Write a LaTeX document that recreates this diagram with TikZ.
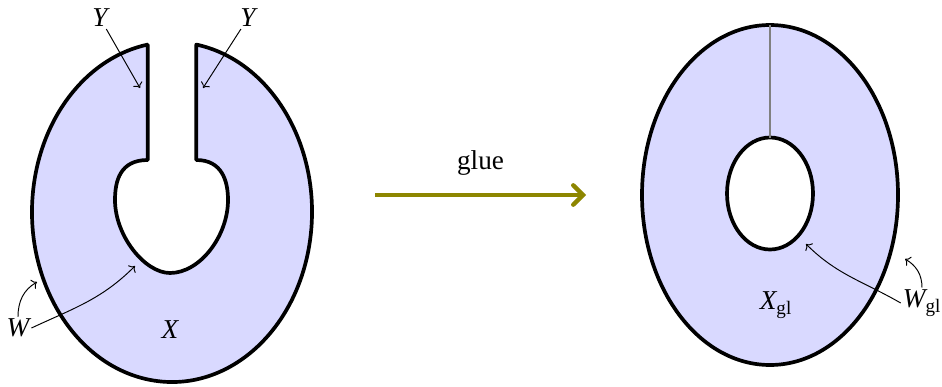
\documentclass[tikz,border=0pt]{standalone}
\usepackage{fontspec}
\setmainfont{Liberation Serif}
\usetikzlibrary{arrows.meta}
\begin{document}
\begin{tikzpicture}[x=0.02cm,y=0.02cm,
  region/.style={fill=blue!15,draw=black,line width=2.1pt,line join=round},
  lbl/.style={font=\fontsize{15.5}{17}\selectfont,inner sep=1pt},
  pointer/.style={->,line width=0.55pt},
  gluearrow/.style={-{Straight Barb[length=5.5pt,width=11pt,line cap=round]},draw=olive,line width=2.5pt}]
\useasboundingbox (0,0) rectangle (942,386);
% left shape
\path[region] (147.69,341.42) -- (147.69,226)
  .. controls (120,226) and (115,205) .. (115,186)
  .. controls (115,150) and (145,113) .. (170,113)
  .. controls (200,113) and (228,150) .. (228,186)
  .. controls (228,205) and (222,226) .. (196.31,226)
  -- (196.31,341.42)
  arc[start angle=80,end angle=-260,x radius=140,y radius=170] -- cycle;
% right shape
\path[region,even odd rule] (770,191) ellipse[x radius=128,y radius=170]
  (770,192.5) ellipse[x radius=43,y radius=56];
\coordinate (gtop) at (770,361);
\coordinate (gbot) at (770,248.5);
\draw[gray,line width=0.6pt] (gtop) -- (gbot);
% glue arrow
\coordinate (ga) at (375,191);
\coordinate (gb) at (586,191);
\draw[gluearrow] (ga) -- node[lbl,above=9pt] {glue} (gb);
% labels
\node[lbl] (Y1) at (100,368) {$\mathit{Y}$};
\node[lbl] (Y2) at (248,368) {$\mathit{Y}$};
\node[lbl] (W) at (18,58) {$\mathit{W}$};
\node[lbl] (X) at (170,56) {$\mathit{X}$};
\node[lbl] (Xg) at (776,81) {$\mathit{X}_{\mathrm{gl}}$};
\node[lbl] (Wg) at (922,83) {$\mathit{W}_{\mathrm{gl}}$};
\coordinate (y1t) at (140,298);
\coordinate (y2t) at (203,298);
\coordinate (wt1) at (37,104);
\coordinate (wt2) at (135,120);
\coordinate (wg1) at (806,142);
\coordinate (wg2) at (905,127);
\draw[pointer] (Y1) -- (y1t);
\draw[pointer] (Y2) -- (y2t);
\draw[pointer] (W.north) to[out=90,in=210] (wt1);
\draw[pointer] (W.east) to[out=25,in=225] (wt2);
\draw[pointer] (Wg.west) to[out=150,in=-45] (wg1);
\draw[pointer] (Wg.north) to[out=90,in=-30] (wg2);
\end{tikzpicture}
\end{document}
